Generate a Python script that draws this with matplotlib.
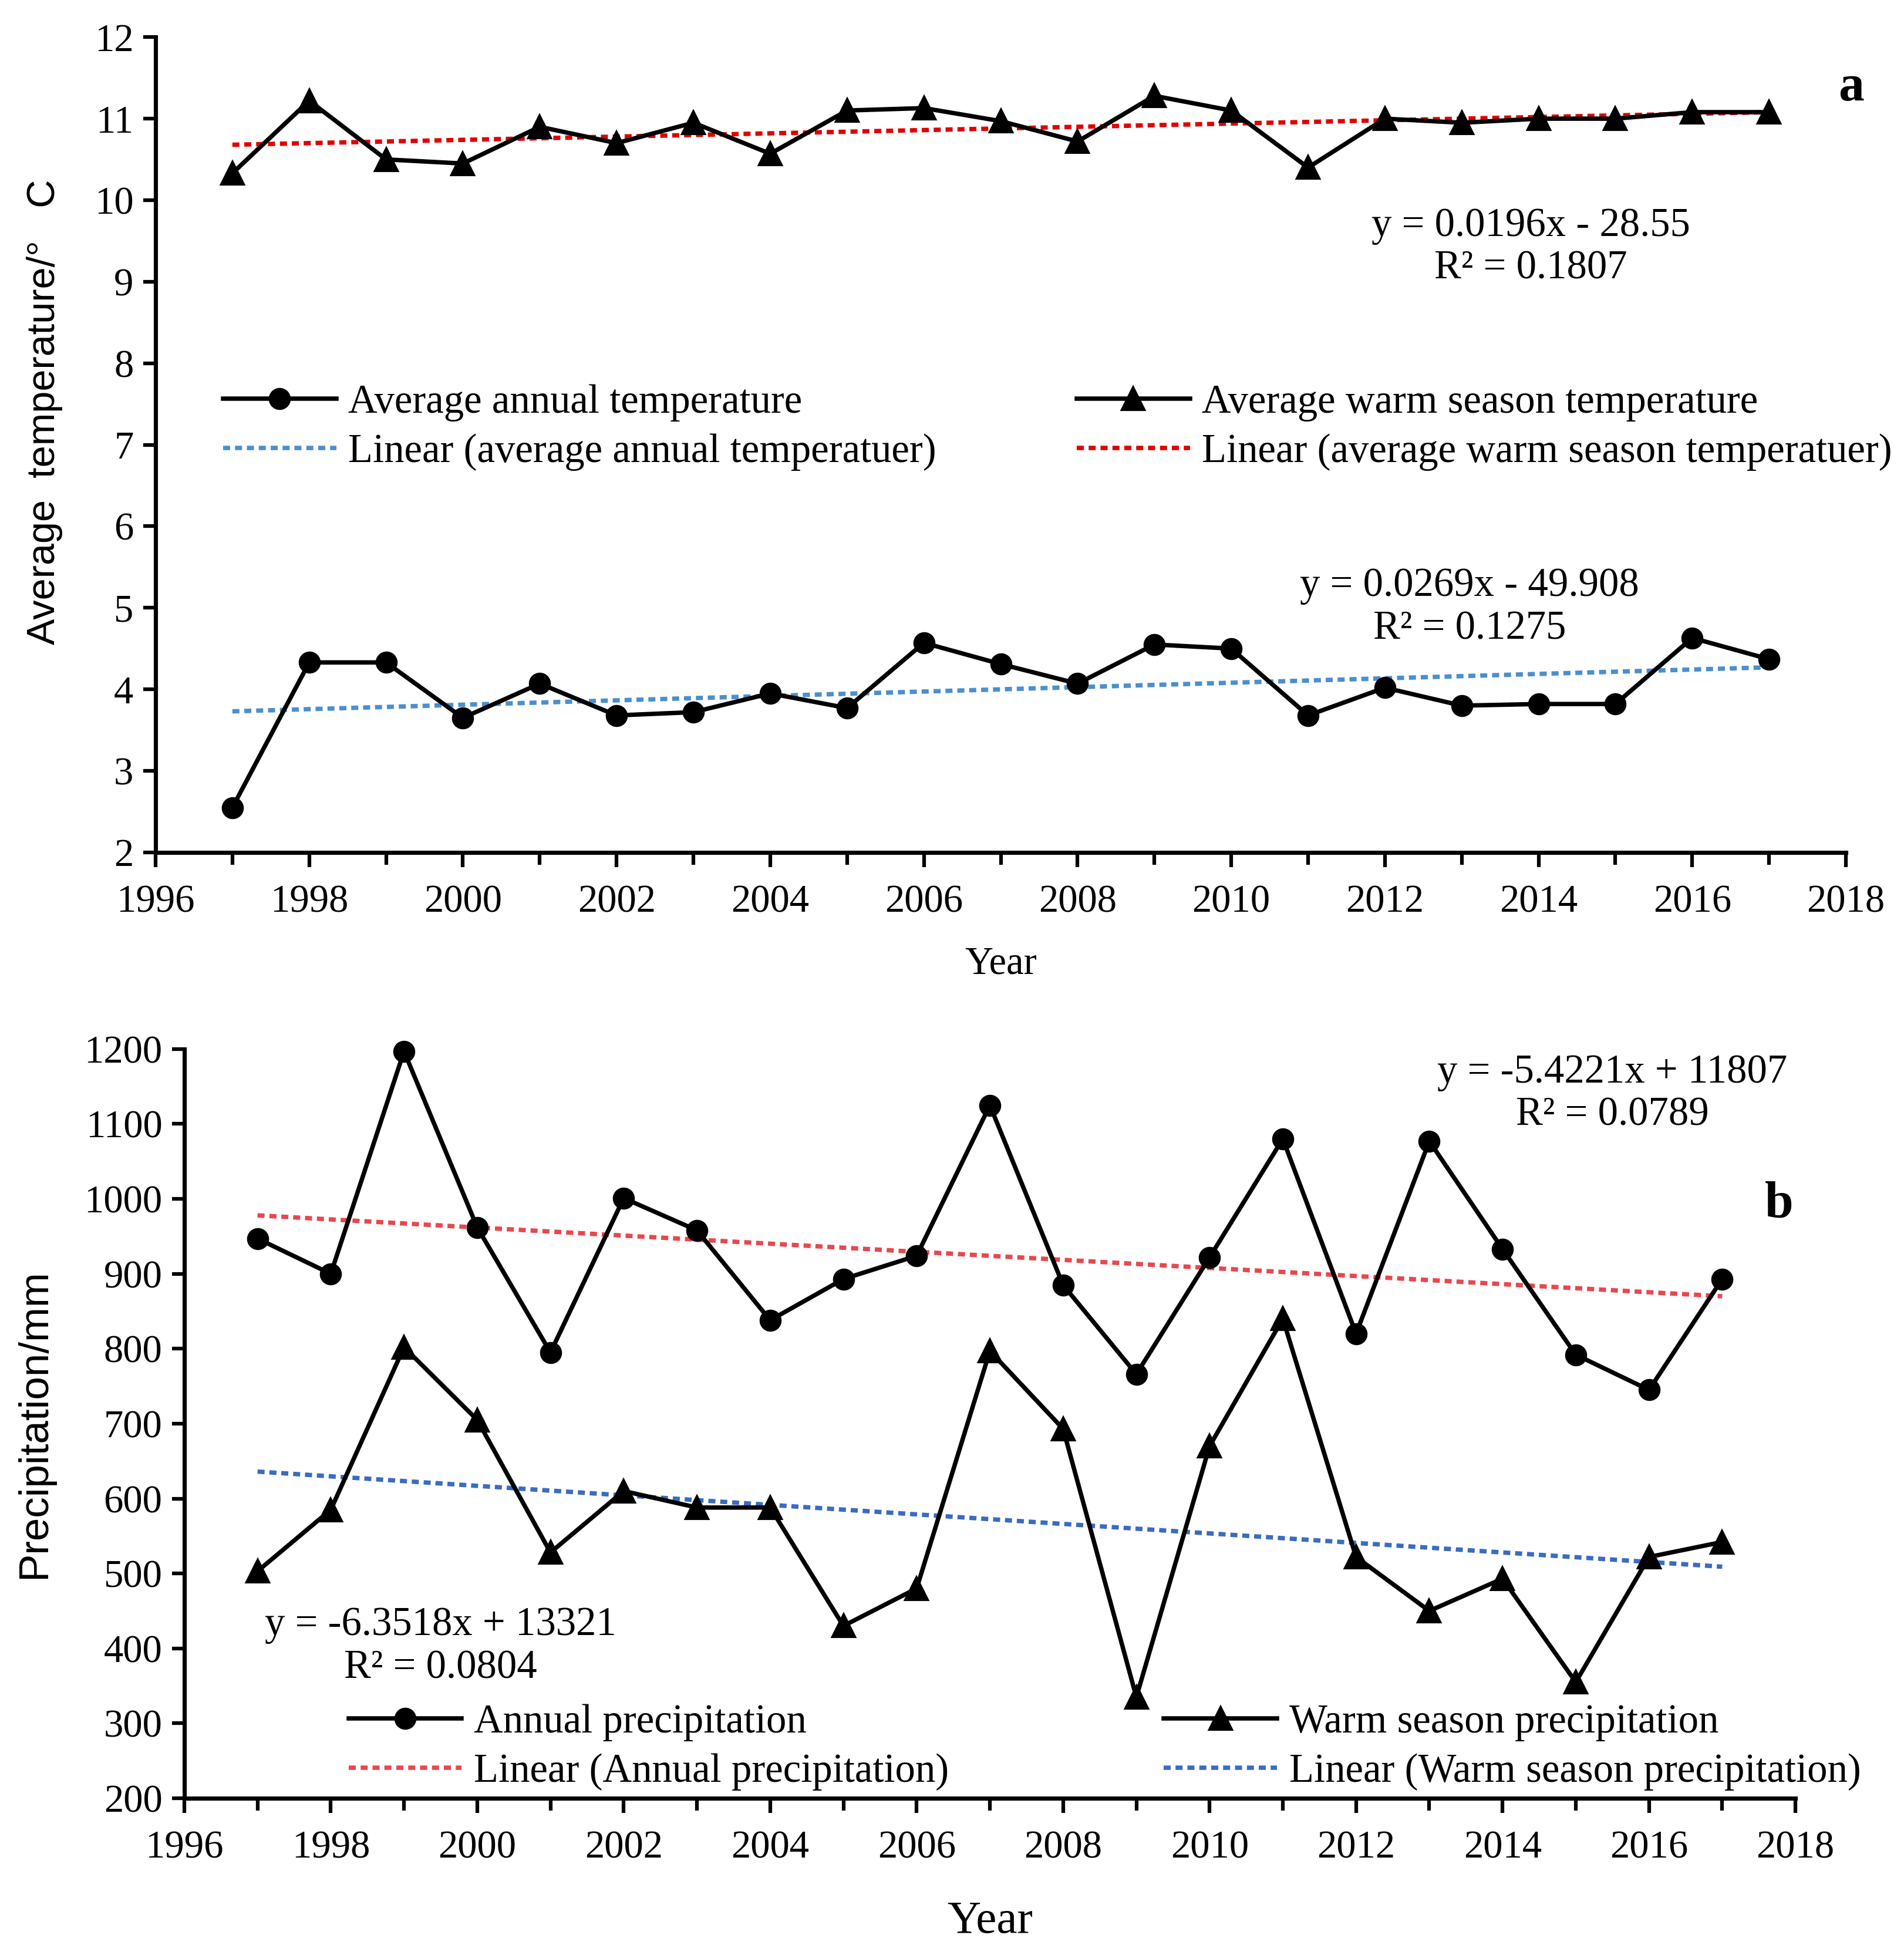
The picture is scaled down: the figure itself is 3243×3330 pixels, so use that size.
import matplotlib
matplotlib.use("Agg")
import matplotlib.pyplot as plt
from matplotlib.lines import Line2D
from matplotlib.ticker import MultipleLocator

# ---------------------------------------------------------
# Data
# ---------------------------------------------------------
YEARS = list(range(1997, 2018))

TEMP_ANNUAL = [2.55, 4.33, 4.33, 3.65, 4.07, 3.68, 3.72, 3.95, 3.77, 4.57, 4.31,
               4.07, 4.55, 4.50, 3.68, 4.02, 3.80, 3.82, 3.82, 4.63, 4.37]
TEMP_WARM = [10.33, 11.22, 10.50, 10.45, 10.90, 10.70, 10.95, 10.57, 11.10, 11.13, 10.97,
             10.72, 11.28, 11.10, 10.40, 11.00, 10.95, 11.00, 11.00, 11.08, 11.08]

PRECIP_ANNUAL = [947, 900, 1197, 962, 795, 1001, 958, 838, 893, 924, 1125,
                 885, 766, 922, 1080, 820, 1077, 933, 792, 745, 893]
PRECIP_WARM = [503, 585, 802, 705, 528, 610, 588, 588, 430, 480, 797,
               693, 335, 670, 840, 522, 450, 493, 355, 522, 542]

# trend line end points (1997, 2017)
TREND_YEARS = [1997, 2017]
TREND_TEMP_ANNUAL = [3.73, 4.27]
TREND_TEMP_WARM = [10.68, 11.08]
TREND_PRECIP_ANNUAL = [978, 870]
TREND_PRECIP_WARM = [636, 509]

EQ_TEMP_WARM = "y = 0.0196x - 28.55\nR² = 0.1807"
EQ_TEMP_ANNUAL = "y = 0.0269x - 49.908\nR² = 0.1275"
EQ_PRECIP_ANNUAL = "y = -5.4221x + 11807\nR² = 0.0789"
EQ_PRECIP_WARM = "y = -6.3518x + 13321\nR² = 0.0804"

# ---------------------------------------------------------
# Style
# ---------------------------------------------------------
SERIF = "Liberation Serif"
SANS = "Liberation Sans"
TICK_FS = 16
LEG_FS = 16.5
LINE_W = 1.8
DASH = (1.6, 1.1)

RED_A = "#e00000"
BLUE_A = "#4a8fd0"
RED_B = "#e8474f"
BLUE_B = "#3a6cc0"

plt.rcParams["font.family"] = SERIF


def style_axes(ax, ylim, ymajor):
    for side in ("top", "right"):
        ax.spines[side].set_visible(False)
    for side in ("left", "bottom"):
        ax.spines[side].set_linewidth(1.7)
    ax.set_xlim(1996, 2018)
    ax.set_ylim(*ylim)
    ax.xaxis.set_major_locator(MultipleLocator(2))
    ax.xaxis.set_minor_locator(MultipleLocator(1))
    ax.yaxis.set_major_locator(MultipleLocator(ymajor))
    ax.tick_params(axis="both", which="both", direction="out", width=1.5,
                   labelsize=TICK_FS)
    ax.tick_params(axis="x", which="major", length=6, pad=7)
    ax.tick_params(axis="x", which="minor", length=5)
    ax.tick_params(axis="y", which="major", length=5, pad=4)


def add_legends(ax, handles_left, handles_right, left_anchor, right_anchor):
    kw = dict(frameon=False, fontsize=LEG_FS, handlelength=2.8, handletextpad=0.3,
              labelspacing=0.3, borderaxespad=0, borderpad=0, loc="lower left")
    leg1 = ax.legend(handles=handles_left, bbox_to_anchor=left_anchor, **kw)
    ax.add_artist(leg1)
    ax.legend(handles=handles_right, bbox_to_anchor=right_anchor, **kw)


fig = plt.figure(figsize=(10.81, 11.10), dpi=300)
ax_a = fig.add_axes([0.0817, 0.564, 0.8878, 0.417])
ax_b = fig.add_axes([0.0968, 0.0802, 0.8462, 0.3832])

# ---------------- panel a ----------------
ax_a.plot(TREND_YEARS, TREND_TEMP_ANNUAL, color=BLUE_A, lw=LINE_W, dashes=DASH, zorder=2)
ax_a.plot(TREND_YEARS, TREND_TEMP_WARM, color=RED_A, lw=LINE_W, dashes=DASH, zorder=2)
ax_a.plot(YEARS, TEMP_ANNUAL, color="black", lw=LINE_W, marker="o", ms=8, zorder=3,
          clip_on=False)
ax_a.plot(YEARS, TEMP_WARM, color="black", lw=LINE_W, marker="^", ms=9, zorder=3,
          clip_on=False)
style_axes(ax_a, (2, 12), 1)

ax_a.text(2013.9, 9.42, EQ_TEMP_WARM, ha="center", va="center", fontsize=LEG_FS,
          linespacing=1.2)
ax_a.text(2013.1, 5.0, EQ_TEMP_ANNUAL, ha="center", va="center", fontsize=LEG_FS,
          linespacing=1.2)
ax_a.text(1.003, 0.938, "a", transform=ax_a.transAxes, ha="center", va="center",
          fontsize=21, fontweight="bold")

ax_a.set_xlabel("Year", fontsize=TICK_FS)
ax_a.xaxis.set_label_coords(0.5, -0.115)
ax_a.set_ylabel("Average  temperature/°   C", fontsize=16, family=SANS)
ax_a.yaxis.set_label_coords(-0.055, 0.54)

h_annual_t = Line2D([], [], color="black", lw=LINE_W, marker="o", ms=8,
                    label="Average annual temperature")
h_warm_t = Line2D([], [], color="black", lw=LINE_W, marker="^", ms=9,
                  label="Average warm season temperature")
h_lin_annual_t = Line2D([], [], color=BLUE_A, lw=LINE_W, dashes=DASH,
                        label="Linear (average annual temperatuer)")
h_lin_warm_t = Line2D([], [], color=RED_A, lw=LINE_W, dashes=DASH,
                      label="Linear (average warm season temperatuer)")
add_legends(ax_a, [h_annual_t, h_lin_annual_t], [h_warm_t, h_lin_warm_t],
            (0.04, 0.468), (0.545, 0.468))

# ---------------- panel b ----------------
ax_b.plot(TREND_YEARS, TREND_PRECIP_ANNUAL, color=RED_B, lw=LINE_W, dashes=DASH, zorder=2)
ax_b.plot(TREND_YEARS, TREND_PRECIP_WARM, color=BLUE_B, lw=LINE_W, dashes=DASH, zorder=2)
ax_b.plot(YEARS, PRECIP_ANNUAL, color="black", lw=LINE_W, marker="o", ms=8, zorder=3,
          clip_on=False)
ax_b.plot(YEARS, PRECIP_WARM, color="black", lw=LINE_W, marker="^", ms=9, zorder=3,
          clip_on=False)
style_axes(ax_b, (200, 1200), 100)

ax_b.text(2015.5, 1140, EQ_PRECIP_ANNUAL, ha="center", va="center", fontsize=LEG_FS,
          linespacing=1.2)
ax_b.text(1999.5, 402, EQ_PRECIP_WARM, ha="center", va="center", fontsize=LEG_FS,
          linespacing=1.2)
ax_b.text(0.99, 0.792, "b", transform=ax_b.transAxes, ha="center", va="center",
          fontsize=21, fontweight="bold")

ax_b.set_xlabel("Year", fontsize=19)
ax_b.xaxis.set_label_coords(0.5, -0.137)
ax_b.set_ylabel("Precipitation/mm", fontsize=17, family=SANS)
ax_b.yaxis.set_label_coords(-0.081, 0.5)

h_annual_p = Line2D([], [], color="black", lw=LINE_W, marker="o", ms=8,
                    label="Annual precipitation")
h_warm_p = Line2D([], [], color="black", lw=LINE_W, marker="^", ms=9,
                  label="Warm season precipitation")
h_lin_annual_p = Line2D([], [], color=RED_B, lw=LINE_W, dashes=DASH,
                        label="Linear (Annual precipitation)")
h_lin_warm_p = Line2D([], [], color=BLUE_B, lw=LINE_W, dashes=DASH,
                      label="Linear (Warm season precipitation)")
add_legends(ax_b, [h_annual_p, h_lin_annual_p], [h_warm_p, h_lin_warm_p],
            (0.102, 0.01), (0.608, 0.01))

fig.savefig("out.png", dpi=300)
